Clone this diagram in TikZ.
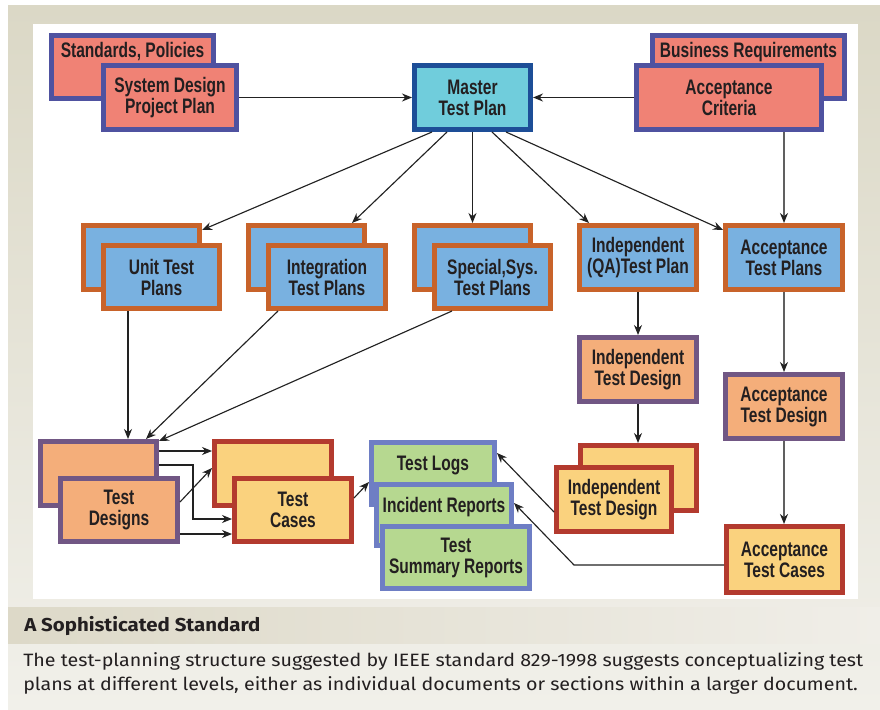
\documentclass[tikz,border=0pt]{standalone}
\usepackage{fontspec}
\setmainfont{Liberation Sans}
\newfontfamily\boxfont[FakeStretch=0.74]{Liberation Sans}
\newfontfamily\capfont[FakeStretch=1.10]{Fira Sans}
\newfontfamily\hdrfont[FakeStretch=1.095]{Fira Sans}
\usetikzlibrary{arrows.meta,calc}
\definecolor{beigeT}{HTML}{DBD8C6}
\definecolor{beigeB}{HTML}{F1F0EA}
\definecolor{bandL}{HTML}{DDD9C8}
\definecolor{bandR}{HTML}{F0EEE8}
\definecolor{txtc}{HTML}{231F20}
\definecolor{salmonF}{HTML}{F08275}
\definecolor{salmonD}{HTML}{4F52A0}
\definecolor{cyanF}{HTML}{70CDDC}
\definecolor{cyanD}{HTML}{1D4E97}
\definecolor{blueF}{HTML}{79B1E0}
\definecolor{blueD}{HTML}{C8632A}
\definecolor{orangeF}{HTML}{F4AE7A}
\definecolor{orangeD}{HTML}{715784}
\definecolor{yellowF}{HTML}{FAD27E}
\definecolor{yellowD}{HTML}{B33A2E}
\definecolor{greenF}{HTML}{B6D890}
\definecolor{greenD}{HTML}{6E7EC4}
\definecolor{arrc}{HTML}{222222}
\definecolor{garrc}{HTML}{606060}
\tikzset{
  bx/.style={draw, line width=3.4pt, inner sep=0pt, align=center, text=txtc,
    font=\boxfont\bfseries\fontsize{15.75}{15.75}\selectfont},
  lbl/.style={inner sep=0pt, text=txtc, anchor=base,
    font=\boxfont\bfseries\fontsize{15.75}{15.75}\selectfont},
  salmonbox/.style={bx, fill=salmonF, draw=salmonD},
  cyanbox/.style={bx, fill=cyanF, draw=cyanD},
  bluebox/.style={bx, fill=blueF, draw=blueD},
  orangebox/.style={bx, fill=orangeF, draw=orangeD},
  yellowbox/.style={bx, fill=yellowF, draw=yellowD},
  greenbox/.style={bx, fill=greenF, draw=greenD},
  arr/.style={draw=arrc, line width=0.85pt, -{Stealth[length=7.5pt,width=6pt]}},
  garr/.style={draw=garrc, line width=1.1pt, -{Stealth[length=7.5pt,width=6pt,color=arrc]}},
  captxt/.style={anchor=base west, inner sep=0pt, text=txtc},
}
\newcommand\boxat[7]{\node[#1, minimum width={(#5-#3)*0.75pt-3.4pt}, minimum height={(#6-#4)*0.75pt-3.4pt}] (#2) at ({(#3+#5)/2},{(#4+#6)/2}) {#7};}
\begin{document}
\begin{tikzpicture}[x=0.75pt,y=-0.75pt]
\useasboundingbox (0,0) rectangle (880,709);
\fill[white] (0,0) rectangle (880,709);
\shade[top color=beigeT, bottom color=beigeB] (8,6) rectangle (880,709);
\shade[left color=bandL, right color=bandR] (8,607) rectangle (880,643);
\fill[white] (33,24) rectangle (858,599);

% top row
\boxat{salmonbox}{std}{49}{33}{216}{101}{}
\node[lbl] (stdt) at ($(std.north)+(0,25)$) {Standards, Policies};
\boxat{salmonbox}{sysd}{101}{63}{239}{132}{System Design\\Project Plan}
\boxat{cyanbox}{master}{412}{63}{533}{132}{Master\\Test Plan}
\boxat{salmonbox}{biz}{650}{33}{847}{101}{}
\node[lbl] (bizt) at ($(biz.north)+(0,25)$) {Business Requirements};
\boxat{salmonbox}{accc}{634}{63}{824}{132}{Acceptance\\Criteria}

% middle row
\boxat{bluebox}{unitb}{81}{223}{202}{292}{}
\boxat{bluebox}{unit}{101}{243}{222}{311}{Unit Test\\Plans}
\boxat{bluebox}{intb}{246}{223}{367}{292}{}
\boxat{bluebox}{int}{266}{243}{388}{311}{Integration\\Test Plans}
\boxat{bluebox}{spb}{412}{223}{533}{292}{}
\boxat{bluebox}{sp}{432}{243}{553}{311}{Special,Sys.\\Test Plans}
\boxat{bluebox}{iqa}{577}{223}{699}{292}{Independent\\(QA)Test Plan}
\boxat{bluebox}{atp}{723}{223}{845}{292}{Acceptance\\Test Plans}
\boxat{orangebox}{itd}{577}{335}{699}{404}{Independent\\Test Design}
\boxat{orangebox}{atd}{723}{372}{845}{441}{Acceptance\\Test Design}

% bottom row
\boxat{orangebox}{tdb}{38}{439}{159}{508}{}
\boxat{orangebox}{td}{58}{476}{180}{544}{Test\\Designs}
\boxat{yellowbox}{tcb}{212}{439}{334}{508}{}
\boxat{yellowbox}{tc}{232}{476}{354}{544}{Test\\Cases}
\boxat{greenbox}{tl}{369}{440}{497}{507}{}
\node[lbl] (tlt) at ($(tl.north)+(0,30)$) {Test Logs};
\boxat{greenbox}{ir}{374}{482}{514}{548}{}
\node[lbl] (irt) at ($(ir.north)+(0,30)$) {Incident Reports};
\boxat{greenbox}{tsr}{380}{524}{532}{591}{Test\\Summary Reports}
\boxat{yellowbox}{itdyb}{578}{443}{699}{513}{}
\boxat{yellowbox}{itdy}{554}{465}{674}{534}{Independent\\Test Design}
\boxat{yellowbox}{atc}{724}{524}{845}{595}{Acceptance\\Test Cases}

% connectors
\draw[arr] (sysd.east) -- (master.west);
\draw[arr] (accc.west) -- (master.east);
\draw[garr] (accc.south -| atp.north) -- (atp.north);
\draw[arr] ($(master.south west)+(20,0)$) -- ($(unitb.north east)+(0,7)$);
\draw[arr] ($(master.south west)+(35,0)$) -- ($(intb.north west)+(106,0)$);
\draw[arr] (master.south) -- (master.south |- spb.north);
\draw[arr] ($(master.south west)+(80,0)$) -- ($(iqa.north west)+(12,0)$);
\draw[arr] ($(master.south west)+(94,0)$) -- ($(atp.north west)+(0,7)$);
\draw[arr] (iqa.south) -- (iqa.south |- itd.north);
\draw[garr] (atp.south) -- (atp.south |- atd.north);
\draw[arr] (itd.south) -- (itd.south |- itdyb.north);
\draw[garr] (atd.south) -- (atd.south |- atc.north);
\draw[arr] ($(unit.south west)+(27,0)$) -- ($(tdb.north west)+(90,0)$);
\draw[arr] ($(int.south west)+(12,0)$) -- ($(tdb.north west)+(108,0)$);
\draw[arr] ($(sp.south west)+(20,0)$) -- ($(tdb.north east)+(0,2)$);
\draw[arr] ($(tdb.north east)+(0,12)$) -- ($(tcb.north west)+(0,12)$);
\draw[arr] ($(tdb.north east)+(0,26)$) -- ++(34,0) |- ($(tc.south west)+(0,-25)$);
\draw[arr] ($(td.north east)+(0,26)$) -- ($(tcb.north west)+(0,29)$);
\draw[arr] ($(td.south east)+(0,-10)$) -- ($(tc.south west)+(0,-10)$);
\draw[arr] ($(tc.north east)+(0,22)$) -- ($(tl.north west)+(0,42)$);
\draw[arr] ($(itdy.south west)+(0,-22)$) -- ($(tl.north east)+(0,13)$);
\draw[arr] ($(atc.south west)+(0,-30)$) -- ++(-150,0) -- ($(ir.north east)+(0,21)$);

% caption
\node[captxt, font=\hdrfont\bfseries\fontsize{14}{16}\selectfont] (hdr) at (24,631) {A Sophisticated Standard};
\node[captxt, font=\capfont\fontsize{13.4}{16}\selectfont] (cap1) at (23,666) {The test-planning structure suggested by IEEE standard 829-1998 suggests conceptualizing test};
\node[captxt, font=\capfont\fontsize{13.4}{16}\selectfont] (cap2) at (23,690) {plans at different levels, either as individual documents or sections within a larger document.};
\end{tikzpicture}
\end{document}
